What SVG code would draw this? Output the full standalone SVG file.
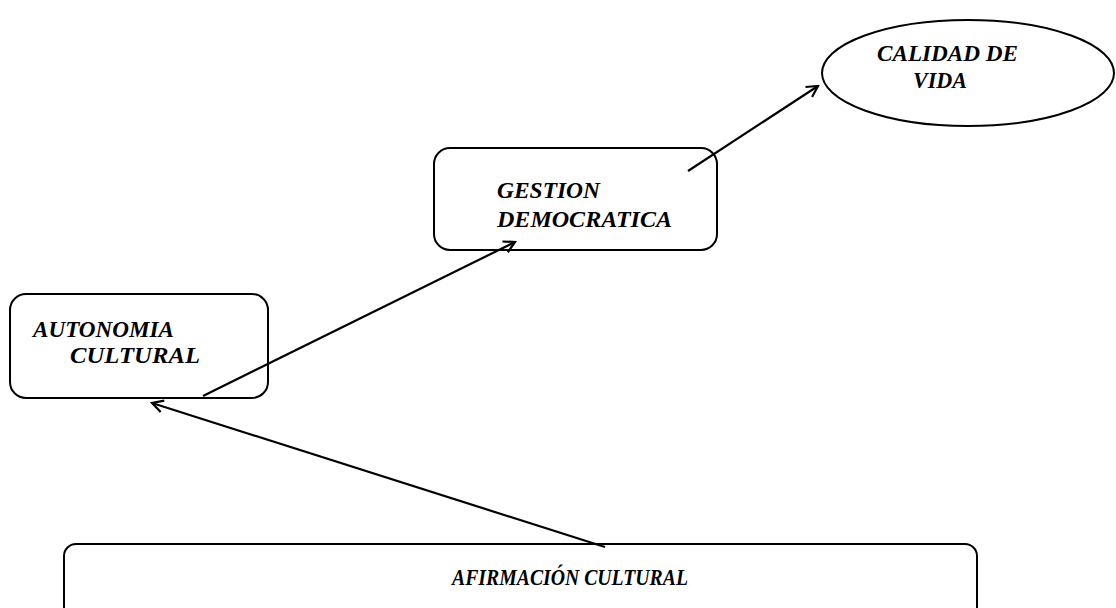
<svg xmlns="http://www.w3.org/2000/svg" width="1116" height="608" viewBox="0 0 1116 608">
<style>
.box{fill:#fff;stroke:#000;stroke-width:2}
.lbl{font-family:"Liberation Serif","Times New Roman",serif;font-weight:bold;font-style:italic;font-size:23px;fill:#000}
.con{stroke:#000;stroke-width:2.2;fill:none;marker-end:url(#arr)}
</style>
<defs>
<marker id="arr" markerUnits="userSpaceOnUse" viewBox="0 0 16 16" markerWidth="16" markerHeight="16" refX="14" refY="8" orient="auto">
<path d="M3,2 L14,8 L3,14" fill="none" stroke="#000" stroke-width="2.2"/>
</marker>
</defs>
<rect width="1116" height="608" fill="#fff"/>
<g id="calidad">
<ellipse class="box" cx="968" cy="73" rx="146" ry="53"/>
<text class="lbl" x="877" y="61" textLength="141" lengthAdjust="spacingAndGlyphs">CALIDAD DE</text>
<text class="lbl" x="913" y="88" textLength="54" lengthAdjust="spacingAndGlyphs">VIDA</text>
</g>
<g id="gestion">
<rect class="box" x="434" y="148" width="283" height="102" rx="16"/>
<text class="lbl" x="497" y="198" textLength="103" lengthAdjust="spacingAndGlyphs">GESTION</text>
<text class="lbl" x="497" y="227" textLength="175" lengthAdjust="spacingAndGlyphs">DEMOCRATICA</text>
</g>
<g id="autonomia">
<rect class="box" x="10" y="294" width="258" height="104" rx="16"/>
<text class="lbl" x="33" y="337" textLength="141" lengthAdjust="spacingAndGlyphs">AUTONOMIA</text>
<text class="lbl" x="70" y="363" textLength="130" lengthAdjust="spacingAndGlyphs">CULTURAL</text>
</g>
<g id="afirmacion">
<rect class="box" x="64" y="544" width="913" height="100" rx="12"/>
<text class="lbl" x="452" y="585" textLength="236" lengthAdjust="spacingAndGlyphs">AFIRMACIÓN CULTURAL</text>
</g>
<g id="connectors">
<line class="con" x1="605" y1="547" x2="152" y2="403"/>
<line class="con" x1="203" y1="396" x2="515" y2="242"/>
<line class="con" x1="688" y1="171" x2="818" y2="86"/>
</g>
</svg>
